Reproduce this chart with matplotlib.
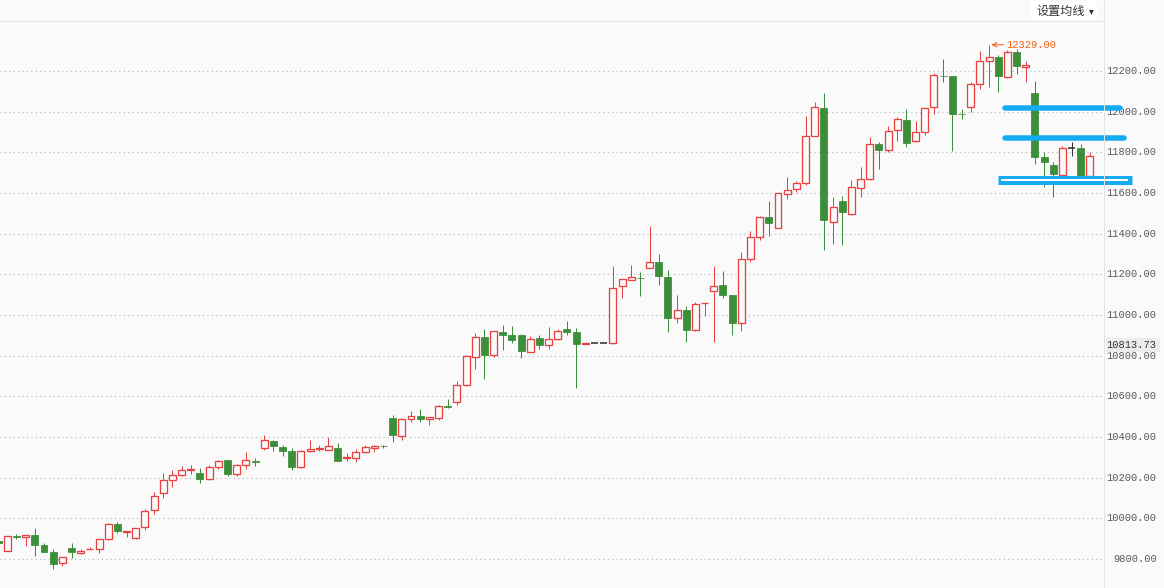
import matplotlib
matplotlib.use('Agg')
import matplotlib.pyplot as plt
import numpy as np
from matplotlib.patches import Rectangle
from matplotlib.lines import Line2D
from matplotlib.transforms import blended_transform_factory

# ---------------- data (index -1 is the partially visible first candle) ----------------
opens = [9890, 9841, 9913, 9907, 9917, 9868, 9834, 9779, 9853, 9832,
         9849, 9848, 9897, 9971, 9935, 9902, 9956, 10040, 10123, 10187,
         10212, 10236, 10222, 10192, 10251, 10287, 10217, 10261, 10282, 10345,
         10381, 10351, 10332, 10251, 10330, 10341, 10335, 10346, 10299, 10298,
         10325, 10348, 10356, 10494, 10404, 10487, 10504, 10487, 10495, 10552,
         10571, 10654, 10792, 10891, 10802, 10915, 10900, 10900, 10817, 10886,
         10851, 10884, 10931, 10915, 10860, 10861, 10861, 10861, 11141, 11174,
         11182, 11230, 11259, 11187, 10984, 11023, 10925, 11057, 11117, 11146,
         11097, 10959, 11274, 11382, 11481, 11427, 11594, 11618, 11648, 11879,
         12017, 11456, 11561, 11495, 11623, 11667, 11840, 11810, 11908, 11958,
         11854, 11899, 12022, 12177, 12175, 11990, 12024, 12135, 12248, 12267,
         12169, 12292, 12221, 12093, 11776, 11736, 11689, 11820, 11820, 11685]
highs = [9897, 9913, 9924, 9917, 9953, 9879, 9848, 9810, 9879, 9848,
         9860, 9898, 9976, 9981, 9938, 9952, 10045, 10130, 10223, 10238,
         10258, 10263, 10250, 10261, 10287, 10288, 10266, 10327, 10296, 10410,
         10384, 10361, 10345, 10336, 10386, 10361, 10400, 10371, 10320, 10341,
         10361, 10361, 10361, 10509, 10494, 10527, 10538, 10498, 10556, 10587,
         10676, 10802, 10912, 10931, 10921, 10951, 10946, 10907, 10895, 10902,
         10941, 10930, 10971, 10936, 10861, 10861, 10861, 11241, 11177, 11246,
         11212, 11438, 11300, 11222, 11099, 11043, 11063, 11060, 11241, 11217,
         11098, 11309, 11412, 11489, 11561, 11600, 11679, 11659, 11979, 12046,
         12092, 11580, 11585, 11664, 11726, 11874, 11851, 11930, 11974, 12013,
         11954, 12018, 12190, 12257, 12176, 12012, 12144, 12298, 12329, 12279,
         12303, 12308, 12249, 12152, 11800, 11753, 11831, 11851, 11840, 11800]
lows = [9872, 9840, 9901, 9866, 9817, 9835, 9753, 9768, 9807, 9824,
        9849, 9832, 9896, 9930, 9910, 9901, 9945, 10023, 10102, 10156,
        10211, 10220, 10173, 10191, 10244, 10210, 10207, 10244, 10259, 10336,
        10333, 10308, 10240, 10250, 10329, 10333, 10334, 10283, 10284, 10279,
        10324, 10325, 10348, 10377, 10387, 10476, 10476, 10461, 10485, 10545,
        10556, 10653, 10736, 10687, 10795, 10830, 10861, 10790, 10816, 10835,
        10835, 10879, 10903, 10643, 10860, 10861, 10861, 10860, 11085, 11173,
        11095, 11229, 11149, 10918, 10962, 10869, 10924, 10997, 10869, 11085,
        10903, 10923, 11262, 11370, 11390, 11426, 11572, 11604, 11638, 11878,
        11321, 11351, 11346, 11494, 11579, 11666, 11720, 11800, 11857, 11828,
        11853, 11884, 11987, 12147, 11808, 11966, 12000, 12113, 12120, 12095,
        12168, 12187, 12147, 11741, 11630, 11582, 11684, 11784, 11675, 11684]
closes = [9878, 9912, 9911, 9917, 9871, 9837, 9778, 9809, 9837, 9838,
          9851, 9897, 9971, 9940, 9938, 9951, 10035, 10112, 10187, 10212,
          10237, 10242, 10195, 10251, 10281, 10220, 10261, 10286, 10276, 10384,
          10355, 10333, 10254, 10330, 10340, 10346, 10355, 10284, 10301, 10325,
          10351, 10356, 10354, 10412, 10487, 10502, 10491, 10497, 10551, 10550,
          10654, 10797, 10891, 10805, 10920, 10903, 10879, 10825, 10884, 10854,
          10884, 10920, 10918, 10859, 10861, 10861, 10861, 11131, 11176, 11186,
          11180, 11259, 11194, 10987, 11023, 10928, 11053, 11059, 11145, 11100,
          10962, 11277, 11382, 11481, 11454, 11599, 11613, 11648, 11879, 12022,
          11466, 11530, 11505, 11628, 11667, 11840, 11813, 11904, 11963, 11844,
          11899, 12017, 12180, 12173, 11990, 11988, 12138, 12248, 12267, 12177,
          12292, 12226, 12228, 11779, 11751, 11694, 11820, 11820, 11681, 11781]

y_ticks = [9800, 10000, 10200, 10400, 10600, 10800, 11000, 11200, 11400,
           11600, 11800, 12000, 12200]
tick_labels = ['%.2f' % v for v in y_ticks]

max_price = 12329.00
max_label = '12329.00'
max_index = int(np.argmax(highs)) - 1
last_price_label = '10813.73'
menu_label = '设置均线'

# hand-drawn horizontal levels (blue)
level_lines = [12020, 11871]
level_box = 11662

# ---------------- style ----------------
W, H = 1164, 588
BG = '#fafafa'
RED = '#e8413f'
GREEN = '#3b8f3b'
DOJI = '#333333'
BLUE = '#15abf3'
ORANGE = '#f0600e'
PX = 0.72  # one pixel in points
NUMFONT = 'Liberation Mono'
NUMSIZE = 7.5

fig = plt.figure(figsize=(W / 100, H / 100), dpi=100)
fig.patch.set_facecolor(BG)

ax_right = 1104
ax_top = 21
ax = fig.add_axes([0, 0, ax_right / W, (H - ax_top) / H])
ax.set_facecolor(BG)
for s in ax.spines.values():
    s.set_visible(False)
ax.set_xticks([])
ax.set_yticks([])

# pixel geometry of the reference
x0_px, step_px = 7.3, 9.175
px_per_unit = 1 / 4.917
y_top_val = 12200 + (71 - ax_top) / px_per_unit
y_bot_val = 12200 - (H - 71) / px_per_unit
ax.set_ylim(y_bot_val, y_top_val)
ax.set_xlim(-x0_px / step_px, (ax_right - x0_px) / step_px)

# grid
for v in y_ticks:
    ax.axhline(v, color='#bdbdbd', lw=1.1 * PX, ls=(0, (1.2, 2.8)), zorder=0)

# candles
xs = np.arange(len(opens)) - 1
bw = 0.76
for x, o, h, l, c in zip(xs, opens, highs, lows, closes):
    if c > o:
        col = RED
    elif c < o:
        col = GREEN
    else:
        col = DOJI
    ax.vlines(x, l, h, color=col, lw=1 * PX, zorder=2)
    if c == o:
        ax.hlines(o, x - bw / 2, x + bw / 2, color=col, lw=1.6 * PX, zorder=3)
    elif c > o:
        ax.add_patch(Rectangle((x - bw / 2, o), bw, c - o, facecolor=BG,
                               edgecolor=col, lw=1.3 * PX, zorder=3))
    else:
        ax.add_patch(Rectangle((x - bw / 2, c), bw, o - c, facecolor=col,
                               edgecolor=col, lw=0.8 * PX, zorder=3))

# blue level lines (extend beyond the axis)
def px_to_idx(p):
    return (p - x0_px) / step_px

ax.plot([px_to_idx(1004.5), px_to_idx(1119.8)], [level_lines[0]] * 2, color=BLUE,
        lw=5.5 * PX, solid_capstyle='round', clip_on=False, zorder=6)
ax.plot([px_to_idx(1004.5), px_to_idx(1123.5)], [level_lines[1]] * 2, color=BLUE,
        lw=5.5 * PX, solid_capstyle='round', clip_on=False, zorder=6)
ax.plot([px_to_idx(997.5), px_to_idx(1131.5)], [level_box] * 2, color=BLUE,
        lw=9 * PX, solid_capstyle='butt', clip_on=False, zorder=6)
ax.plot([px_to_idx(1000.8), px_to_idx(1128.2)], [level_box] * 2, color='white',
        lw=2 * PX, solid_capstyle='butt', clip_on=False, zorder=7)

# max annotation
tip_x = max_index + 2.4 / step_px
ax.annotate(max_label, xy=(tip_x, max_price), xytext=(15 * PX, 0),
            textcoords='offset points', ha='left', va='center',
            color=ORANGE, fontsize=NUMSIZE, family=NUMFONT,
            arrowprops=dict(arrowstyle='->', color=ORANGE, lw=1 * PX,
                            shrinkA=0, shrinkB=0, mutation_scale=8),
            zorder=8)

# right axis labels
trans = blended_transform_factory(fig.transFigure, ax.transData)
for v, s in zip(y_ticks, tick_labels):
    ax.text(1156.5 / W, v, s, transform=trans, ha='right', va='center',
            fontsize=NUMSIZE, family=NUMFONT, color='#5a5a5a', clip_on=False,
            zorder=4)

# last price tag
tag_y_px = 345
fig.patches.append(Rectangle((1106 / W, 1 - 352 / H), 54 / W, 14 / H,
                             transform=fig.transFigure, facecolor='#ececec',
                             edgecolor='none', zorder=9))
fig.text(1156.5 / W, 1 - tag_y_px / H, last_price_label, ha='right', va='center',
         fontsize=NUMSIZE, family=NUMFONT, color='#333333', zorder=10)

# frame lines
fig.add_artist(Line2D([0, ax_right / W], [1 - ax_top / H] * 2, transform=fig.transFigure,
                      color='#e6e6e6', lw=1 * PX, zorder=1))
fig.add_artist(Line2D([ax_right / W] * 2, [0, 1], transform=fig.transFigure,
                      color='#e2e2e2', lw=1 * PX, zorder=1))

# menu label
fig.patches.append(Rectangle((1030 / W, 1 - 20 / H), 67 / W, 19 / H,
                             transform=fig.transFigure, facecolor='white',
                             edgecolor='none', zorder=9))
fig.text(1036.5 / W, 1 - 11.5 / H, menu_label, ha='left', va='center', fontsize=8.7,
         family=['Noto Sans CJK SC', 'DejaVu Sans'], color='#333333', zorder=10)
fig.text(1088.5 / W, 1 - 11 / H, '▾', ha='left', va='center', fontsize=7,
         family='DejaVu Sans', color='#333333', zorder=10)

fig.savefig('out.png', dpi=100, facecolor=BG)
